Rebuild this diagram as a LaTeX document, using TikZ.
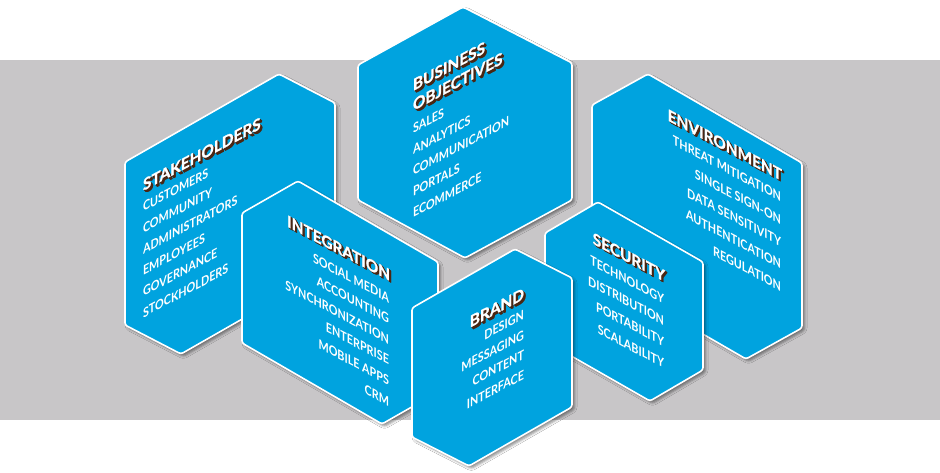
\documentclass[tikz,border=0pt]{standalone}
\usepackage{fontspec}
\setmainfont{Lato}
\newfontfamily\itemfont{Lato}[FakeStretch=0.83]
\newfontfamily\ttlfont{Lato}[FakeStretch=0.96,FakeBold=1.2]
\usetikzlibrary{shadows.blur}
\definecolor{hexblue}{HTML}{00A3DF}
\definecolor{bandgray}{HTML}{C8C6C8}
\definecolor{extr}{HTML}{4A2613}
\tikzset{
  hexbox/.style={fill=hexblue, draw=white, line width=1.6pt, rounded corners=2.5pt, line join=round,
    blur shadow={shadow xshift=2.5pt, shadow yshift=-2.5pt, shadow blur radius=2.5pt, shadow opacity=45}},
  itemtxt/.style={inner sep=0pt, outer sep=0pt, text=white, transform shape,
    font=\itemfont\bfseries\fontsize{13}{15}\selectfont},
  ttltxt/.style={inner sep=0pt, outer sep=0pt, text=white, transform shape,
    font=\ttlfont\bfseries\fontsize{16}{18}\selectfont},
}
% item line: name, x, y, slant, anchor, text
\newcommand\itm[6]{\begin{scope}[shift={(#2,#3)},yslant=#4]\node[itemtxt,anchor=#5] (#1) at (0,0) {#6};\end{scope}}
% title line with brown extrusion
\newcommand\ttl[6]{%
  \foreach \d [count=\k] in {2.2,1.8,1.4,1.0,0.6}{\begin{scope}[shift={(#2+\d,#3+\d)},yslant=#4]\node[ttltxt,text=extr,anchor=#5] (#1e\k) at (0,0) {#6};\end{scope}}%
  \begin{scope}[shift={(#2,#3)},yslant=#4]\node[ttltxt,anchor=#5] (#1) at (0,0) {#6};\end{scope}}
\begin{document}
\begin{tikzpicture}[x=1pt,y=-1pt]
\useasboundingbox (0,0) rectangle (940,473);
\fill[white] (0,0) rectangle (940,473);
\fill[bandgray] (0,60) rectangle (940,420);
% hexagons, back to front
\path[hexbox] (125,162) -- (279,74) -- (335,103) -- (335,266) -- (181,354) -- (125,325) -- cycle;
\path[hexbox] (592,105) -- (648,74) -- (802,163) -- (802,328) -- (746,359) -- (592,270) -- cycle;
\path[hexbox] (358,65) -- (463,7) -- (572,63) -- (572,200) -- (465,258) -- (358,200) -- cycle;
% stakeholders text
\ttl{shT}{143}{191}{0.53}{base west}{STAKEHOLDERS}
\foreach \t [count=\i from 0] in {CUSTOMERS,COMMUNITY,ADMINISTRATORS,EMPLOYEES,GOVERNANCE,STOCKHOLDERS}
  {\itm{sh\i}{143}{212+21.2*\i}{0.53}{base west}{\t}}
% environment text
\ttl{enT}{782}{181}{-0.53}{base east}{ENVIRONMENT}
\foreach \t [count=\i from 0] in {THREAT MITIGATION,SINGLE SIGN-ON,DATA SENSITIVITY,AUTHENTICATION,REGULATION}
  {\itm{en\i}{781}{202+22.4*\i}{-0.53}{base east}{\t}}
% business objectives text
\ttl{boT}{413}{91}{0.53}{base west}{BUSINESS}
\ttl{boU}{413}{111}{0.53}{base west}{OBJECTIVES}
\foreach \t [count=\i from 0] in {SALES,ANALYTICS,COMMUNICATION,PORTALS,ECOMMERCE}
  {\itm{bo\i}{413}{134+21*\i}{0.53}{base west}{\t}}
% integration
\path[hexbox] (242,213) -- (298,181) -- (438,262) -- (438,392) -- (382,424) -- (242,343) -- cycle;
\ttl{inT}{390}{281}{-0.53}{base east}{INTEGRATION}
\foreach \t [count=\i from 0] in {SOCIAL MEDIA,ACCOUNTING,SYNCHRONIZATION,ENTERPRISE,MOBILE APPS,CRM}
  {\itm{in\i}{389}{303+20.7*\i}{-0.53}{base east}{\t}}
% security
\path[hexbox] (545,233) -- (598,202) -- (703,262) -- (703,370) -- (650,401) -- (545,341) -- cycle;
\ttl{seT}{665}{282}{-0.53}{base east}{SECURITY}
\foreach \t [count=\i from 0] in {TECHNOLOGY,DISTRIBUTION,PORTABILITY,SCALABILITY}
  {\itm{se\i}{664}{304+21.5*\i}{-0.53}{base east}{\t}}
% brand
\path[hexbox] (412,308) -- (515,249) -- (572,278) -- (572,407) -- (469,466) -- (412,437) -- cycle;
\ttl{brT}{524}{299}{0.53}{base east}{BRAND}
\foreach \t [count=\i from 0] in {DESIGN,MESSAGING,CONTENT,INTERFACE}
  {\itm{br\i}{524}{319+20*\i}{0.53}{base east}{\t}}
\end{tikzpicture}
\end{document}
